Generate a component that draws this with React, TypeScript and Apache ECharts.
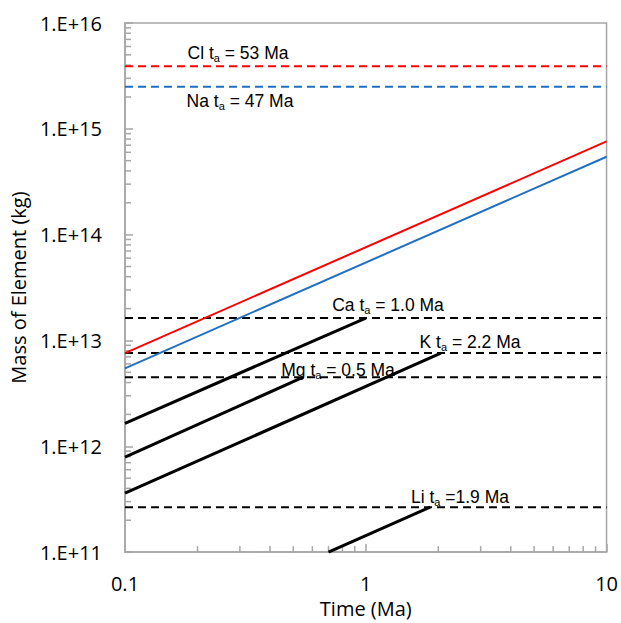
import React, { useEffect, useRef } from "react";
import * as echarts from "echarts";

// Time range (Ma) and mass range (kg)
const xRange = [0.1, 10];
const yRange = [1e11, 1e16];

// Accumulation lines (Time Ma, Mass kg)
const clLine = [[0.1, 7.6e12], [10, 7.6e14]];
const naLine = [[0.1, 5.45e12], [10, 5.45e14]];
const caLine = [[0.1, 1.65e12], [1.0, 1.63e13]];
const mgLine = [[0.1, 7.9e11], [0.55, 4.5e12]];
const kLine = [[0.1, 3.6e11], [2.05, 7.6e12]];
const liLine = [[0.7, 1e11], [1.85, 2.66e11]];

// Steady-state masses (kg)
const clSteady = 3.9e15;
const naSteady = 2.5e15;
const caSteady = 1.63e13;
const kSteady = 7.6e12;
const mgSteady = 4.5e12;
const liSteady = 2.66e11;

// Annotation texts
const labels = [
  { el: "Cl", rest: " = 53 Ma", x: 238, y: 53 },
  { el: "Na", rest: " = 47 Ma", x: 240, y: 101 },
  { el: "Ca", rest: " = 1.0 Ma", x: 388, y: 305 },
  { el: "K", rest: " = 2.2 Ma", x: 470, y: 342 },
  { el: "Mg", rest: " = 0.5 Ma", x: 338, y: 370 },
  { el: "Li", rest: " =1.9 Ma", x: 460, y: 497 },
];

// Minor tick multipliers for log axes
const minorMult = [2, 3, 4, 5, 6, 7, 8, 9];
const xDecades = [0.1, 1];
const yDecades = [1e11, 1e12, 1e13, 1e14, 1e15];

const AXIS_COLOR = "#a6a6a6";
const AXIS_FONT = 20;

export default function App() {
  const ref = useRef<HTMLDivElement>(null);
  useEffect(() => {
    if (!ref.current) return;
    const chart = echarts.init(ref.current, null, { renderer: "svg" });
    const hline = (v: number) => [[xRange[0], v], [xRange[1], v]];
    const dashed = (name: string, v: number, color: string) => ({
      name,
      type: "line",
      data: hline(v),
      symbol: "none",
      silent: true,
      lineStyle: { color, width: 2, type: [8, 5] },
      z: 3,
    });
    const solid = (name: string, data: number[][], color: string, width: number) => ({
      name,
      type: "line",
      data,
      symbol: "none",
      silent: true,
      lineStyle: { color, width },
      z: 4,
    });
    const xMinor: number[][] = [];
    xDecades.forEach((d) => minorMult.forEach((m) => xMinor.push([d * m, yRange[0]])));
    const yMinor: number[][] = [];
    yDecades.forEach((d) => minorMult.forEach((m) => yMinor.push([xRange[0], d * m])));

    const rich = {
      n: { fontSize: 17.5, fontFamily: "Liberation Sans", color: "#000", lineHeight: 20 },
      s: { fontSize: 11, fontFamily: "Liberation Sans", color: "#000", lineHeight: 11, verticalAlign: "bottom" },
    };

    chart.setOption({
      animation: false,
      backgroundColor: "#fff",
      grid: {
        left: 125,
        top: 23,
        right: 14,
        bottom: 64,
        show: true,
        borderColor: AXIS_COLOR,
        borderWidth: 1.5,
        containLabel: false,
      },
      xAxis: {
        type: "log",
        logBase: 10,
        min: xRange[0],
        max: xRange[1],
        name: "Time (Ma)",
        nameLocation: "middle",
        nameGap: 44,
        nameTextStyle: { fontFamily: "Open Sans", fontSize: AXIS_FONT, color: "#000" },
        axisLine: { lineStyle: { color: AXIS_COLOR, width: 1.5 } },
        axisTick: { inside: true, length: 8, lineStyle: { color: AXIS_COLOR, width: 1.5 } },
        axisLabel: {
          margin: 21,
          fontFamily: "Open Sans",
          fontSize: AXIS_FONT,
          color: "#000",
          formatter: (v: number) => String(Number(v.toPrecision(3))),
        },
        splitLine: { show: false },
      },
      yAxis: {
        type: "log",
        logBase: 10,
        min: yRange[0],
        max: yRange[1],
        name: "Mass of Element (kg)",
        nameLocation: "middle",
        nameGap: 89,
        nameTextStyle: { fontFamily: "Open Sans", fontSize: AXIS_FONT, color: "#000" },
        axisLine: { lineStyle: { color: AXIS_COLOR, width: 1.5 } },
        axisTick: { inside: true, length: 8, lineStyle: { color: AXIS_COLOR, width: 1.5 } },
        axisLabel: {
          margin: 23,
          fontFamily: "Open Sans",
          fontSize: AXIS_FONT,
          color: "#000",
          formatter: (v: number) => "1.E+" + Math.round(Math.log10(v)),
        },
        splitLine: { show: false },
      },
      series: [
        {
          type: "custom",
          silent: true,
          data: xMinor,
          renderItem: (params: any, api: any) => {
            const p = api.coord([api.value(0), api.value(1)]);
            return {
              type: "line",
              shape: { x1: p[0], y1: p[1], x2: p[0], y2: p[1] - 6 },
              style: { stroke: AXIS_COLOR, lineWidth: 1.5 },
            };
          },
          z: 1,
        },
        {
          type: "custom",
          silent: true,
          data: yMinor,
          renderItem: (params: any, api: any) => {
            const p = api.coord([api.value(0), api.value(1)]);
            return {
              type: "line",
              shape: { x1: p[0], y1: p[1], x2: p[0] + 6, y2: p[1] },
              style: { stroke: AXIS_COLOR, lineWidth: 1.5 },
            };
          },
          z: 1,
        },
        dashed("Cl steady", clSteady, "#ff0000"),
        dashed("Na steady", naSteady, "#1f6fc4"),
        dashed("Ca steady", caSteady, "#000"),
        dashed("K steady", kSteady, "#000"),
        dashed("Mg steady", mgSteady, "#000"),
        dashed("Li steady", liSteady, "#000"),
        solid("Cl", clLine, "#ff0000", 2),
        solid("Na", naLine, "#1f6fc4", 2),
        solid("Ca", caLine, "#000", 3),
        solid("Mg", mgLine, "#000", 3),
        solid("K", kLine, "#000", 3),
        solid("Li", liLine, "#000", 3),
      ],
      graphic: labels.map((l) => ({
        type: "text",
        x: l.x,
        y: l.y,
        z: 10,
        style: {
          text: `{n|${l.el} t}{s|a}{n|${l.rest}}`,
          rich,
          align: "center",
          verticalAlign: "middle",
        },
      })),
    });
    return () => chart.dispose();
  }, []);
  return (
    <div
      ref={ref}
      style={{ position: "absolute", left: 0, top: 0, width: 621, height: 623 }}
    />
  );
}
